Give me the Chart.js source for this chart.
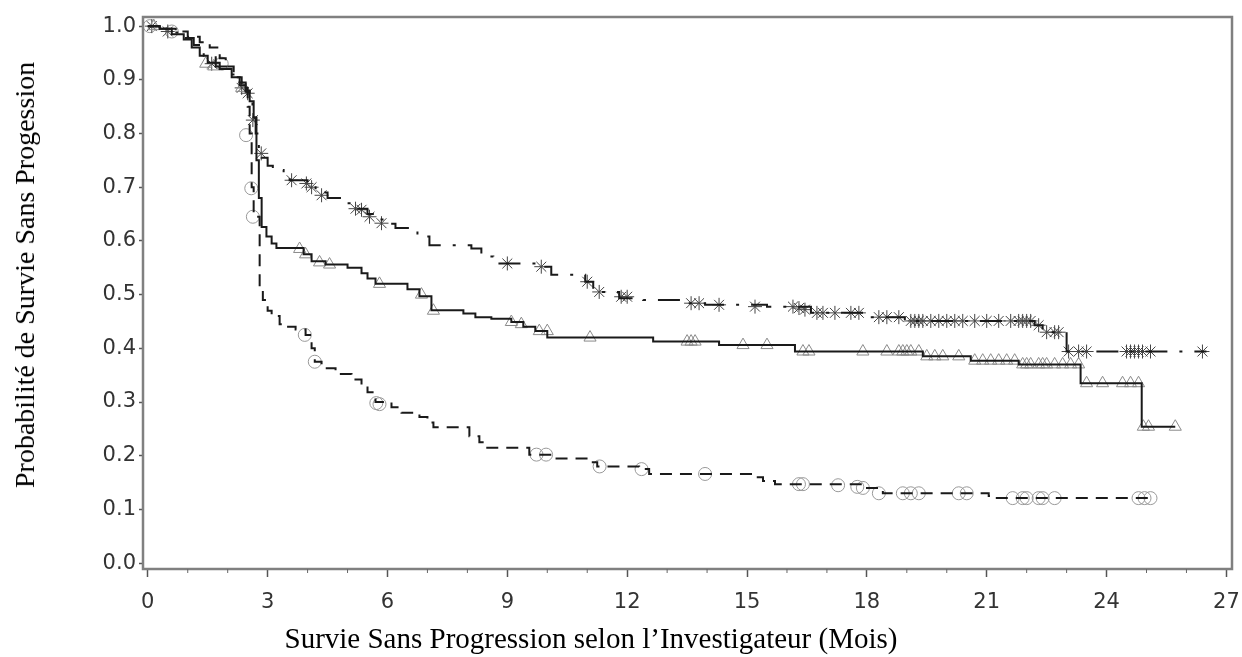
<!DOCTYPE html>
<html>
<head>
<meta charset="utf-8">
<script src="https://cdn.jsdelivr.net/npm/chart.js@4"></script>
<style>
  html, body { margin: 0; padding: 0; background: #fff; }
  #wrap { position: relative; width: 1242px; height: 657px; }
  canvas { position: absolute; left: 0; top: 0; }
  .title { position: absolute; font-family: "Liberation Serif", "Times New Roman", serif; font-size: 28px; color: #000; white-space: nowrap; }
  #ytitle { left: 25px; top: 275px; transform: translate(-50%, -50%) rotate(-90deg); }
  #xtitle { left: 591px; top: 638px; font-size: 29px; transform: translate(-50%, -50%); }
</style>
</head>
<body>
<div id="wrap">
  <canvas id="km" width="1242" height="657"></canvas>
  <div class="title" id="ytitle">Probabilité de Survie Sans Progession</div>
  <div class="title" id="xtitle">Survie Sans Progression selon l’Investigateur (Mois)</div>
</div>
<script>
// axis ticks
const xTicks = [0, 3, 6, 9, 12, 15, 18, 21, 24, 27];
const yTicks = [0, 0.1, 0.2, 0.3, 0.4, 0.5, 0.6, 0.7, 0.8, 0.9, 1.0];

// dashed curve (circles)
const dashT = [0,0.35,0.7,1.0,1.3,1.55,1.8,1.95,2.15,2.35,2.5,2.55,2.6,2.65,2.8,2.88,3.0,3.1,3.3,3.45,3.7,3.95,4.1,4.18,4.35,4.7,5.1,5.35,5.5,5.7,6.1,6.35,6.8,7.0,7.15,8.05,8.3,8.45,9.55,10.2,11.05,11.25,12.3,12.55,15.1,15.4,15.7,17.9,18.4,21.05,21.2,25.2];
const dashS = [1,0.995,0.99,0.98,0.97,0.96,0.94,0.925,0.905,0.885,0.85,0.80,0.70,0.645,0.51,0.49,0.47,0.46,0.445,0.44,0.435,0.425,0.40,0.375,0.363,0.352,0.342,0.33,0.318,0.30,0.29,0.28,0.272,0.262,0.253,0.236,0.225,0.215,0.202,0.195,0.188,0.18,0.175,0.166,0.16,0.153,0.147,0.14,0.13,0.125,0.121,0.121];
const dashCensT = [0.05,0.6,1.85,2.46,2.59,2.63,3.93,4.18,5.72,5.8,9.73,9.97,11.31,12.36,13.95,16.3,16.4,17.28,17.76,17.9,18.3,18.9,19.1,19.3,20.3,20.5,21.65,21.9,22.0,22.3,22.4,22.7,24.8,24.95,25.1];
const dashCensS = [1.0,0.99,0.93,0.797,0.698,0.645,0.425,0.375,0.298,0.296,0.202,0.202,0.18,0.175,0.166,0.147,0.147,0.145,0.142,0.14,0.13,0.13,0.13,0.13,0.13,0.13,0.121,0.121,0.121,0.121,0.121,0.121,0.121,0.121,0.121];

// solid curve (triangles)
const solidT = [0,0.3,0.6,0.9,1.1,1.3,1.5,1.8,2.1,2.3,2.45,2.55,2.65,2.72,2.78,2.85,2.97,3.1,3.22,3.9,4.1,4.45,5.0,5.35,5.5,5.7,6.5,6.8,7.1,7.9,8.2,8.6,9.1,9.4,9.7,10.0,12.65,14.3,16.2,19.4,20.6,21.8,23.35,24.88,25.72];
const solidS = [1,0.995,0.985,0.975,0.96,0.945,0.932,0.92,0.905,0.89,0.878,0.86,0.83,0.75,0.68,0.626,0.608,0.595,0.587,0.575,0.562,0.556,0.55,0.54,0.53,0.52,0.51,0.497,0.471,0.465,0.458,0.455,0.449,0.44,0.432,0.42,0.4125,0.406,0.394,0.385,0.377,0.37,0.335,0.254,0.254];
const solidCensT = [0.15,1.45,1.65,2.35,3.8,3.95,4.3,4.55,5.8,6.85,7.15,9.1,9.35,9.8,10.0,11.07,13.5,13.6,13.7,14.9,15.5,16.4,16.55,17.9,18.5,18.8,18.9,19.0,19.1,19.3,19.5,19.7,19.9,20.3,20.7,20.9,21.1,21.3,21.5,21.7,21.9,22.0,22.1,22.3,22.4,22.5,22.7,22.9,23.1,23.3,23.5,23.9,24.4,24.6,24.8,24.92,25.05,25.72];
const solidCensS = [1.0,0.93,0.925,0.885,0.585,0.575,0.56,0.556,0.52,0.5,0.47,0.449,0.445,0.432,0.432,0.42,0.4125,0.4125,0.4125,0.406,0.406,0.394,0.394,0.394,0.394,0.394,0.394,0.394,0.394,0.394,0.385,0.385,0.385,0.385,0.377,0.377,0.377,0.377,0.377,0.377,0.37,0.37,0.37,0.37,0.37,0.37,0.37,0.37,0.37,0.37,0.335,0.335,0.335,0.335,0.335,0.254,0.254,0.254];

// dash-dot curve (stars)
const dotT = [0,0.3,0.6,0.9,1.15,1.4,1.7,2.0,2.25,2.45,2.55,2.62,2.7,2.78,2.85,3.0,3.13,3.4,3.55,4.0,4.2,4.5,4.9,5.2,5.5,5.7,5.9,6.2,6.75,7.05,8.1,8.35,8.65,9.85,10.1,10.95,11.15,11.8,12.4,13.5,13.95,15.5,16.6,18.0,18.95,22.2,22.4,23.0,26.5];
const dotS = [1,0.995,0.988,0.978,0.965,0.945,0.925,0.91,0.895,0.88,0.86,0.83,0.80,0.77,0.755,0.74,0.732,0.72,0.713,0.705,0.69,0.68,0.67,0.66,0.65,0.64,0.632,0.624,0.608,0.592,0.586,0.571,0.558,0.552,0.537,0.524,0.505,0.493,0.49,0.484,0.481,0.4776,0.466,0.458,0.451,0.443,0.43,0.394,0.394];
const dotCensT = [0.1,0.5,1.6,2.35,2.5,2.63,2.84,3.6,3.97,4.1,4.35,5.2,5.35,5.55,5.85,9.0,9.85,11.0,11.3,11.85,12.0,13.6,13.8,14.3,15.2,16.15,16.3,16.45,16.75,16.9,17.2,17.6,17.8,18.3,18.5,18.8,19.1,19.2,19.3,19.4,19.6,19.8,20.0,20.2,20.4,20.7,21.0,21.3,21.6,21.8,21.9,22.0,22.1,22.3,22.5,22.7,22.8,23.05,23.3,23.5,24.5,24.6,24.7,24.8,24.9,25.1,26.4];
const dotCensS = [1.0,0.99,0.93,0.885,0.875,0.825,0.763,0.713,0.707,0.7,0.685,0.66,0.658,0.645,0.633,0.558,0.552,0.524,0.505,0.496,0.496,0.484,0.484,0.481,0.4776,0.4776,0.475,0.472,0.466,0.466,0.466,0.466,0.466,0.458,0.458,0.458,0.451,0.451,0.451,0.451,0.451,0.451,0.451,0.451,0.451,0.451,0.451,0.451,0.451,0.451,0.451,0.451,0.451,0.443,0.43,0.43,0.43,0.394,0.394,0.394,0.394,0.394,0.394,0.394,0.394,0.394,0.394];

const pts = (xs, ys) => xs.map((x, i) => ({ x, y: ys[i] }));

const framePlugin = {
  id: "frame",
  afterDraw(chart) {
    const { ctx, chartArea: a, scales } = chart;
    ctx.save();
    ctx.strokeStyle = "#808080";
    ctx.lineWidth = 2.5;
    ctx.strokeRect(a.left, a.top, a.right - a.left, a.bottom - a.top);
    // minor ticks every month
    ctx.strokeStyle = "#666";
    ctx.lineWidth = 1;
    for (let m = 1; m < 27; m++) {
      if (m % 3 === 0) continue;
      const px = scales.x.getPixelForValue(m);
      ctx.beginPath();
      ctx.moveTo(px, a.bottom);
      ctx.lineTo(px, a.bottom + 4);
      ctx.stroke();
    }
    ctx.restore();
  },
};

const lineDs = (label, data, dash) => ({
  type: "line",
  label,
  data,
  stepped: true,
  borderColor: "#1a1a1a",
  borderWidth: 2,
  borderDash: dash,
  pointRadius: 0,
  fill: false,
});

const censDs = (label, data, style, radius, color) => ({
  type: "scatter",
  label,
  data,
  showLine: false,
  pointStyle: style,
  pointRadius: radius,
  pointBorderColor: color,
  pointBackgroundColor: "rgba(0,0,0,0)",
  pointBorderWidth: 1,
});

new Chart(document.getElementById("km"), {
  data: {
    datasets: [
      lineDs("Bras A", pts(solidT, solidS), []),
      lineDs("Bras B", pts(dotT, dotS), [22, 12, 3, 12]),
      lineDs("Bras C", pts(dashT, dashS), [12, 8]),
      censDs("Censure A", pts(solidCensT, solidCensS), "triangle", 7, "#8a8a8a"),
      censDs("Censure B", pts(dotCensT, dotCensS), "star", 7, "#444"),
      censDs("Censure C", pts(dashCensT, dashCensS), "circle", 6.5, "#999"),
    ],
  },
  options: {
    responsive: false,
    animation: false,
    layout: { padding: { left: 0, top: 17, right: 10, bottom: 0 } },
    plugins: { legend: { display: false }, tooltip: { enabled: false } },
    scales: {
      x: {
        type: "linear",
        min: -0.12,
        max: 27.14,
        afterBuildTicks: (s) => { s.ticks = xTicks.map((v) => ({ value: v })); },
        afterFit: (s) => { s.height = 88; s.paddingLeft = 0; s.paddingRight = 0; },
        border: { display: false },
        grid: { drawOnChartArea: false, tickLength: 8, color: "#555", tickWidth: 1.5 },
        ticks: { autoSkip: false, maxRotation: 0, padding: 13, color: "#333", font: { family: "DejaVu Sans", size: 21 } },
      },
      y: {
        type: "linear",
        min: -0.011,
        max: 1.017,
        afterBuildTicks: (s) => { s.ticks = yTicks.map((v) => ({ value: v })); },
        afterFit: (s) => { s.width = 143; s.paddingTop = 0; s.paddingBottom = 0; },
        border: { display: false },
        grid: { drawOnChartArea: false, tickLength: 4, color: "#555", tickWidth: 1.5 },
        ticks: { autoSkip: false, padding: 3, color: "#333", font: { family: "DejaVu Sans", size: 21 }, callback: (v) => v.toFixed(1) },
      },
    },
  },
  plugins: [framePlugin],
});
</script>
</body>
</html>
